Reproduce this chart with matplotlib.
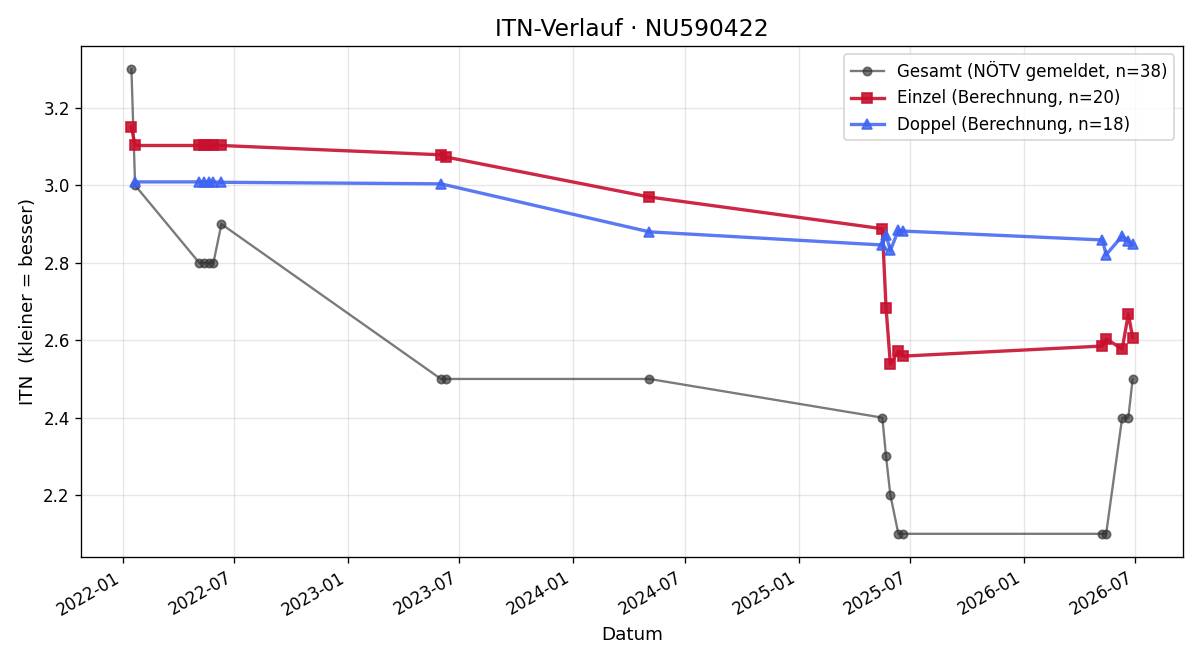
import matplotlib
matplotlib.use("Agg")
import matplotlib.pyplot as plt
import matplotlib.dates as mdates
import pandas as pd

gesamt_dates = ["2022-01-15", "2022-01-21", "2022-05-05", "2022-05-13", "2022-05-21",
                "2022-05-28", "2022-06-10", "2023-06-01", "2023-06-10", "2024-05-04",
                "2025-05-17", "2025-05-23", "2025-05-30", "2025-06-12", "2025-06-20",
                "2026-05-09", "2026-05-15", "2026-06-10", "2026-06-20", "2026-06-27"]
gesamt_vals = [3.3, 3.0, 2.8, 2.8, 2.8, 2.8, 2.9, 2.5, 2.5, 2.5,
               2.4, 2.3, 2.2, 2.1, 2.1, 2.1, 2.1, 2.4, 2.4, 2.5]

einzel_dates = gesamt_dates
einzel_vals = [3.150, 3.103, 3.103, 3.103, 3.103, 3.103, 3.103, 3.079, 3.073, 2.970,
               2.888, 2.684, 2.538, 2.572, 2.559, 2.585, 2.604, 2.577, 2.668, 2.607]

doppel_dates = ["2022-01-21", "2022-05-05", "2022-05-13", "2022-05-21", "2022-05-28",
                "2022-06-10", "2023-06-01", "2024-05-04", "2025-05-17", "2025-05-23",
                "2025-05-30", "2025-06-12", "2025-06-20", "2026-05-09", "2026-05-15",
                "2026-06-10", "2026-06-20", "2026-06-27"]
doppel_vals = [3.009, 3.009, 3.009, 3.009, 3.009, 3.008, 3.004, 2.880, 2.846, 2.872,
               2.832, 2.884, 2.882, 2.859, 2.821, 2.869, 2.856, 2.848]

fig, ax = plt.subplots(figsize=(10, 5.5), dpi=120)
ax.plot(pd.to_datetime(gesamt_dates), gesamt_vals, color="#333333", alpha=0.65,
        marker="o", markersize=5, linewidth=1.4, label="Gesamt (NÖTV gemeldet, n=38)")
ax.plot(pd.to_datetime(einzel_dates), einzel_vals, color="#c8102e", alpha=0.9,
        marker="s", markersize=6, linewidth=2.0, label="Einzel (Berechnung, n=20)")
ax.plot(pd.to_datetime(doppel_dates), doppel_vals, color="#3d63f2", alpha=0.85,
        marker="^", markersize=6, linewidth=2.0, label="Doppel (Berechnung, n=18)")

ax.set_title("ITN-Verlauf · NU590422", fontsize=14)
ax.set_xlabel("Datum", fontsize=11)
ax.set_ylabel("ITN  (kleiner = besser)", fontsize=11)
ax.grid(True, alpha=0.3)
ax.xaxis.set_major_locator(mdates.MonthLocator(bymonth=[1, 7]))
ax.xaxis.set_major_formatter(mdates.DateFormatter("%Y-%m"))
ax.legend(loc="upper right", fontsize=10)
fig.autofmt_xdate()
fig.subplots_adjust(left=0.0678, right=0.9856, top=0.9303, bottom=0.156)
fig.savefig("out.png", dpi=120)
